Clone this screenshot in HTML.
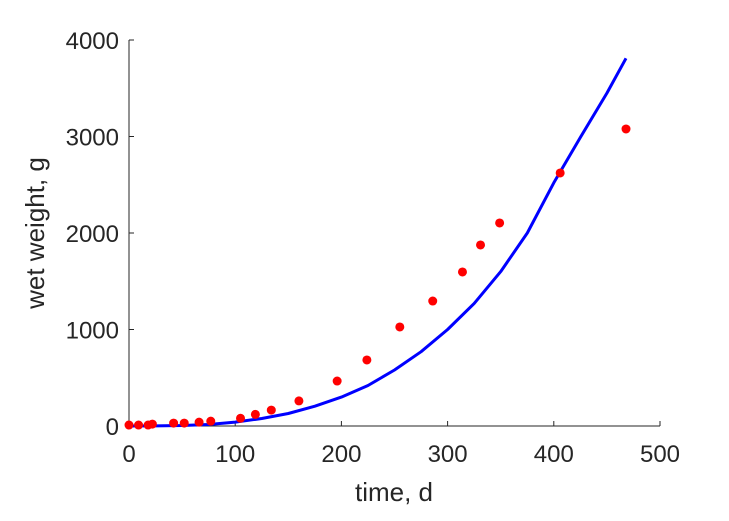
<!DOCTYPE html>
<html><head><meta charset="utf-8"><style>
html,body{margin:0;padding:0;background:#fff;}
svg{display:block;font-family:"Liberation Sans",Arial,sans-serif;}
</style></head><body>
<svg id="chart" width="729" height="521" viewBox="0 0 729 521" xmlns="http://www.w3.org/2000/svg">
<g id="axes"></g>
<g id="series"></g>
<text x="394" y="501" font-size="26" text-anchor="middle" fill="#262626">time, d</text>
<text transform="translate(44,233) rotate(-90)" font-size="26" text-anchor="middle" fill="#262626">wet weight, g</text>
</svg>
<script>
const xTicks=[0,100,200,300,400,500];
const yTicks=[0,1000,2000,3000,4000];
const obsT=[0,9,18,22,42,52,66,77,105,119,134,160,196,224,255,286,314,331,349,406,468];
const obsW=[10,10,10,20,30,30,40,50,80,120,165,260,466,684,1026,1295,1596,1876,2104,2622,3078];
const fitT=[0,25,50,75,100,125,150,175,200,225,250,275,300,325,350,375,400,425,450,468];
const fitW=[0,1,5,16,40,78,130,205,300,420,580,770,1000,1270,1600,2000,2520,2990,3450,3810];
const X0=129,X1=660,Y0=426,Y1=40;
const sx=v=>X0+(v-0)/500*(X1-X0);
const sy=v=>Y0-(v-0)/4000*(Y0-Y1);
const NS="http://www.w3.org/2000/svg";
const axes=document.getElementById('axes'),series=document.getElementById('series');
function mk(tag,attrs,parent){const e=document.createElementNS(NS,tag);for(const k in attrs)e.setAttribute(k,attrs[k]);parent.appendChild(e);return e;}
let l=mk('line',{x1:X0,y1:Y0,x2:X1,y2:Y0,stroke:'#262626','stroke-width':1},axes);


l=mk('line',{x1:X0,y1:Y0,x2:X0,y2:Y1,stroke:'#262626','stroke-width':1},axes);


xTicks.forEach(v=>{
  const t=mk('line',{x1:sx(v),y1:Y0,x2:sx(v),y2:Y0-5,stroke:'#262626'},axes);
  
  
  const tx=mk('text',{x:sx(v),y:Y0+36,'font-size':24,'text-anchor':'middle',fill:'#262626'},axes);
  tx.textContent=v;
  
  
});
yTicks.forEach(v=>{
  const t=mk('line',{x1:X0,y1:sy(v),x2:X0+5,y2:sy(v),stroke:'#262626'},axes);
  
  
  const tx=mk('text',{x:X0-10,y:sy(v)+9,'font-size':24,'text-anchor':'end',fill:'#262626'},axes);
  tx.textContent=v;
  
  
});
const d=fitT.map((t,i)=>(i?'L':'M')+sx(t).toFixed(1)+','+sy(fitW[i]).toFixed(1)).join(' ');
const p=mk('path',{d:d,fill:'none',stroke:'#0000ff','stroke-width':3,'stroke-linejoin':'round'},series);


obsT.forEach((t,i)=>{
  const c=mk('circle',{cx:sx(t),cy:sy(obsW[i]),r:4.5,fill:'#ff0000'},series);
  
  
});
</script>
</body></html>
